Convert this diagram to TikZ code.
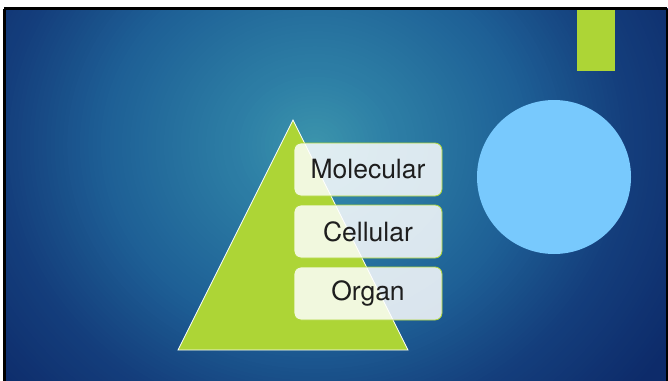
\documentclass[tikz,border=0pt]{standalone}
\usepackage{fontspec}
\setmainfont{TeX Gyre Heros}
\definecolor{gA}{HTML}{3C95AC}
\definecolor{gB}{HTML}{2E80A6}
\definecolor{gC}{HTML}{1E6096}
\definecolor{gD}{HTML}{143E7C}
\definecolor{gE}{HTML}{0D2B6A}
\definecolor{leaf}{HTML}{ADD536}
\definecolor{sky}{HTML}{78C9FD}
\definecolor{txt}{HTML}{1E1E1E}
\tikzset{
  levelbox/.style={draw=leaf, line width=0.8pt, rounded corners=7pt, fill=white, fill opacity=0.84, text opacity=1,
    minimum width=148pt, minimum height=53pt, inner sep=0pt, text=txt, font=\fontsize{26.5}{30}\selectfont},
}
\begin{document}
\begin{tikzpicture}[x=1pt,y=-1pt]
\useasboundingbox (0,0) rectangle (668,380);
\fill[white] (0,0) rectangle (668,380);
\begin{scope}
  \clip (4,8.5) rectangle (667,381);
  \foreach \r in {440,436,...,4}{
    \ifdim\r pt<70pt
      \pgfmathsetmacro\p{\r/70*100}\colorlet{cur}{gB!\p!gA}
    \else\ifdim\r pt<200pt
      \pgfmathsetmacro\p{(\r-70)/130*100}\colorlet{cur}{gC!\p!gB}
    \else\ifdim\r pt<300pt
      \pgfmathsetmacro\p{(\r-200)/100*100}\colorlet{cur}{gD!\p!gC}
    \else
      \pgfmathsetmacro\p{min(100,(\r-300)/100*100)}\colorlet{cur}{gE!\p!gD}
    \fi\fi\fi
    \fill[cur] (315,145) ellipse [x radius=1.05*\r, y radius=0.95*\r];
  }
\end{scope}
\draw[black, line width=3pt] (4,8.5) -- (667,8.5);
\draw[black, line width=3pt] (4.5,8.5) -- (4.5,381);
\draw[black, line width=2pt] (667,8.5) -- (667,381);
% accent bar
\fill[leaf] (577,10) rectangle (615,71);
% circle
\node[circle, fill=sky, minimum size=154pt, inner sep=0pt] (disc) at (554,177) {};
% triangle
\draw[white, line width=0.8pt, fill=leaf] (293,120) coordinate (apex) -- (408,350) coordinate (br) -- (178,350) coordinate (bl) -- cycle;
% levels
\node[levelbox] (mol) at (368,169.5) {Molecular};
\node[levelbox] (cel) at (368,231.5) {Cellular};
\node[levelbox] (org) at (368,293.5) {Organ};
\end{tikzpicture}
\end{document}
